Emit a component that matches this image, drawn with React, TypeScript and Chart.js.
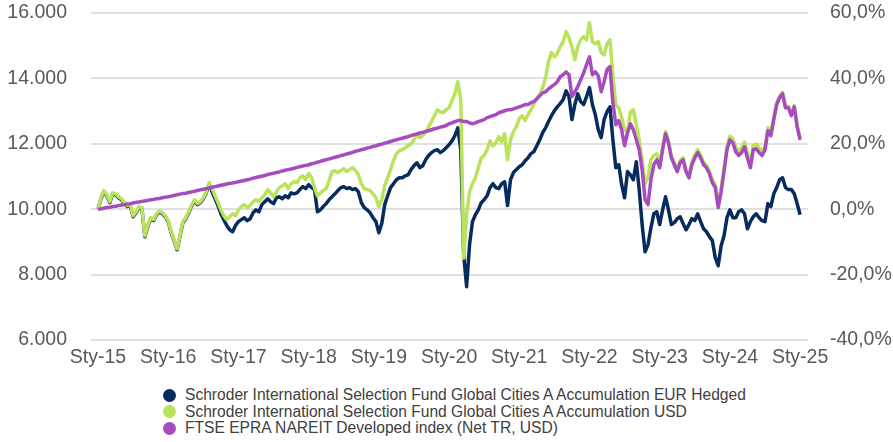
import React, { useEffect, useRef } from "react";
import { Chart, registerables } from "chart.js";

Chart.register(...registerables);

// x axis: half-month steps from Jan 2015 (index 0) to Jan 2025 (index 240)
const tickLabels = ["Sty-15", "Sty-16", "Sty-17", "Sty-18", "Sty-19", "Sty-20", "Sty-21", "Sty-22", "Sty-23", "Sty-24", "Sty-25"];
const STEPS_PER_YEAR = 24;

const seriesNames = [
  "Schroder International Selection Fund Global Cities A Accumulation EUR Hedged",
  "Schroder International Selection Fund Global Cities A Accumulation USD",
  "FTSE EPRA NAREIT Developed index (Net TR, USD)",
];
const seriesColors = ["#062b5d", "#b9e35b", "#a64cbe"];

const navyEurHedged = [
  10000, 10320, 10540, 10410, 10200, 10470, 10440, 10350, 10290, 10170, 10080, 10110, 9770, 9890, 10050, 10020, 9160, 9470, 9710, 9650, 9830, 9920, 9860, 9770,
  9620, 9280, 9040, 8760, 9160, 9590, 9710, 9890, 10110, 10260, 10140, 10200, 10320, 10500, 10750, 10530, 10320, 10110, 9860, 9680, 9500, 9370, 9310, 9500,
  9620, 9680, 9740, 9650, 9710, 9890, 9980, 9920, 10140, 10230, 10320, 10230, 10170, 10350, 10380, 10320, 10410, 10350, 10500, 10470, 10500, 10600, 10690, 10630,
  10750, 10660, 10600, 9920, 9980, 10080, 10170, 10290, 10380, 10470, 10570, 10660, 10690, 10630, 10660, 10600, 10630, 10530, 10200, 10050, 9980, 9890, 9740, 9620,
  9280, 9560, 10140, 10410, 10660, 10780, 10900, 10960, 10960, 11020, 11050, 11210, 11330, 11420, 11270, 11330, 11510, 11640, 11730, 11790, 11820, 11730, 11790, 11880,
  11970, 12090, 12250, 12490, 11820, 8610, 7630, 8910, 9620, 9830, 9980, 10200, 10290, 10410, 10660, 10780, 10660, 10630, 10780, 10840, 10110, 10900, 11120, 11210,
  11300, 11360, 11480, 11570, 11700, 11760, 11940, 12120, 12340, 12490, 12680, 12860, 13010, 13130, 13230, 13350, 13620, 13440, 12740, 13200, 13530, 13290, 13200, 13440,
  13720, 13200, 12890, 12430, 12190, 12740, 12980, 13130, 12120, 11270, 11360, 10750, 10350, 11150, 11050, 10900, 11450, 10600, 9530, 8700, 8910, 9430, 9860, 9920,
  9530, 9980, 10380, 9980, 9530, 9590, 9710, 9770, 9560, 9370, 9530, 9710, 9650, 9860, 9620, 9400, 9310, 9160, 9040, 8520, 8270, 8880, 9190, 9740,
  9980, 9740, 9740, 9920, 9980, 9860, 9400, 9620, 9770, 9860, 9740, 9650, 9620, 10170, 10080, 10470, 10660, 10900, 10960, 10660, 10600, 10600, 10470, 10170, 9830,
];

const greenUsd = [
  10000, 10350, 10570, 10440, 10230, 10500, 10470, 10380, 10320, 10200, 10110, 10140, 9800, 9920, 10080, 10050, 9190, 9500, 9740, 9680, 9860, 9950, 9890, 9800,
  9650, 9310, 9070, 8790, 9190, 9620, 9740, 9920, 10140, 10290, 10170, 10230, 10350, 10530, 10810, 10630, 10410, 10200, 9980, 9800, 9680, 9770, 9860, 9800,
  9980, 10080, 10140, 10050, 10110, 10230, 10290, 10230, 10350, 10440, 10600, 10500, 10380, 10530, 10660, 10720, 10780, 10630, 10780, 10840, 10810, 10960, 11020, 10900,
  11090, 10960, 10660, 10410, 10500, 10570, 10630, 10870, 11150, 11180, 11120, 11180, 11240, 11150, 11210, 11270, 11180, 11050, 10780, 10630, 10600, 10570, 10470, 10350,
  10080, 10290, 10720, 10960, 11210, 11480, 11700, 11790, 11820, 11880, 11940, 12000, 12120, 12280, 12190, 12250, 12340, 12520, 12680, 12860, 13040, 12980, 12950, 13040,
  13100, 13320, 13530, 13900, 13350, 8500, 9830, 10530, 10780, 10960, 11270, 11570, 11640, 11820, 12090, 11940, 12030, 12220, 12060, 12310, 11510, 12120, 12370, 12520,
  12770, 12860, 12710, 12890, 13040, 13230, 13380, 13500, 13720, 14020, 14510, 14790, 14660, 14760, 14970, 15120, 15430, 15240, 14970, 14570, 14970, 15180, 15280, 15180,
  15700, 15120, 15060, 15120, 14790, 14720, 15060, 15180, 14080, 13200, 13100, 12800, 12430, 12370, 12980, 13040, 12580, 12120, 11510, 10780, 10960, 11510, 11640, 11700,
  11340, 11880, 12380, 12090, 11640, 11430, 11210, 11490, 11580, 11220, 11030, 11440, 11650, 11820, 11650, 11440, 11340, 11170, 10900, 10760, 10150, 10630, 11250, 11920,
  12230, 12150, 11890, 11790, 11880, 12050, 11720, 11410, 11960, 11990, 11870, 11770, 11930, 12490, 12330, 12810, 13260, 13460, 13570, 13150, 13150, 12910, 13170, 12560, 12170,
];

const purpleIndex = [
  10000, 10010, 10030, 10050, 10060, 10080, 10090, 10110, 10130, 10140, 10160, 10170, 10190, 10210, 10220, 10240, 10250, 10270, 10290, 10300, 10320, 10330, 10350, 10370,
  10380, 10400, 10420, 10440, 10460, 10480, 10490, 10510, 10530, 10550, 10570, 10590, 10610, 10630, 10650, 10670, 10690, 10710, 10730, 10750, 10770, 10790, 10800, 10820,
  10840, 10860, 10880, 10900, 10920, 10950, 10970, 10990, 11010, 11030, 11060, 11080, 11100, 11120, 11140, 11170, 11190, 11210, 11230, 11250, 11280, 11300, 11320, 11340,
  11360, 11390, 11410, 11440, 11460, 11490, 11510, 11540, 11560, 11590, 11610, 11640, 11660, 11690, 11710, 11740, 11770, 11790, 11820, 11840, 11870, 11890, 11920, 11940,
  11970, 11990, 12020, 12040, 12070, 12100, 12120, 12150, 12170, 12200, 12220, 12250, 12280, 12300, 12330, 12350, 12380, 12400, 12430, 12460, 12480, 12510, 12530, 12560,
  12610, 12640, 12680, 12710, 12710, 12680, 12680, 12640, 12610, 12640, 12680, 12710, 12740, 12800, 12830, 12860, 12890, 12950, 12980, 13010, 13040, 13040, 13070, 13100,
  13130, 13160, 13200, 13200, 13260, 13290, 13380, 13470, 13560, 13590, 13680, 13750, 13810, 13900, 14050, 14110, 14200, 14110, 13440, 13590, 13750, 13960, 14170, 14420,
  14660, 14110, 14200, 14080, 13590, 13900, 14270, 14360, 13260, 12580, 12710, 12430, 11940, 12340, 12610, 12430, 12120, 11820, 11210, 10290, 10140, 10900, 11360, 11510,
  11270, 11820, 12310, 12030, 11570, 11360, 11150, 11420, 11510, 11150, 10960, 11360, 11570, 11730, 11570, 11360, 11270, 11090, 10810, 10660, 10050, 10530, 11150, 11820,
  12120, 12030, 11760, 11640, 11730, 11910, 11570, 11270, 11820, 11850, 11730, 11640, 11820, 12400, 12250, 12740, 13200, 13410, 13530, 13100, 13100, 12860, 13130, 12520, 12120,
];

const leftTicks = [6000, 8000, 10000, 12000, 14000, 16000];
const rightTicks = [-40, -20, 0, 20, 40, 60];

const FONT = "'Liberation Sans', Arial, sans-serif";
const TICK_SIZE = 19.5;

const toXY = (arr: number[]) => arr.map((v, i) => ({ x: i, y: v }));

export default function App() {
  const ref = useRef<HTMLCanvasElement | null>(null);

  useEffect(() => {
    document.body.style.margin = "0";
    const canvas = ref.current!;
    const mk = (k: number) => ({
      label: seriesNames[k],
      data: toXY([navyEurHedged, greenUsd, purpleIndex][k]),
      borderColor: seriesColors[k],
      backgroundColor: seriesColors[k],
      borderWidth: 3.5,
      pointRadius: 0,
      tension: 0,
      borderJoinStyle: "round" as const,
      yAxisID: "y",
    });
    const noVPad = (s: any, w: number) => {
      s.width = w;
      s.paddingTop = 0;
      s.paddingBottom = 0;
    };
    const chart = new Chart(canvas, {
      type: "line",
      data: { datasets: [mk(2), mk(1), mk(0)] },
      options: {
        animation: false,
        responsive: false,
        maintainAspectRatio: false,
        layout: { padding: { top: 13, left: 0, right: 0, bottom: 0 } },
        plugins: { legend: { display: false }, tooltip: { enabled: false } },
        scales: {
          x: {
            type: "linear",
            min: -2.4,
            max: 242.7,
            afterBuildTicks: (axis: any) => {
              axis.ticks = tickLabels.map((_, k) => ({ value: k * STEPS_PER_YEAR }));
            },
            afterFit: (s: any) => {
              s.height = 44;
            },
            ticks: {
              autoSkip: false,
              maxRotation: 0,
              padding: 6,
              color: "#595959",
              font: { family: FONT, size: TICK_SIZE },
              callback: (v: any) => tickLabels[Math.round(Number(v) / STEPS_PER_YEAR)],
            },
            grid: { display: false, drawTicks: false },
            border: { display: false },
          },
          y: {
            position: "left",
            min: 6000,
            max: 16000,
            afterBuildTicks: (axis: any) => {
              axis.ticks = leftTicks.map((v) => ({ value: v }));
            },
            afterFit: (s: any) => noVPad(s, 91),
            ticks: {
              padding: 24,
              color: "#595959",
              font: { family: FONT, size: TICK_SIZE },
              callback: (v: any) => Number(v).toLocaleString("de-DE"),
            },
            grid: { color: "#e0e0e0", lineWidth: 2, drawTicks: false },
            border: { display: false },
          },
          y2: {
            position: "right",
            min: -40,
            max: 60,
            afterBuildTicks: (axis: any) => {
              axis.ticks = rightTicks.map((v) => ({ value: v }));
            },
            afterFit: (s: any) => noVPad(s, 85),
            ticks: {
              padding: 22,
              color: "#595959",
              font: { family: FONT, size: TICK_SIZE },
              callback: (v: any) => Number(v).toFixed(1).replace(".", ",") + "%",
            },
            grid: { display: false, drawTicks: false },
            border: { display: false },
          },
        },
      },
    });
    return () => chart.destroy();
  }, []);

  return (
    <div style={{ position: "relative", width: 893, height: 442, background: "#fff", overflow: "hidden" }}>
      <canvas ref={ref} width={893} height={384} style={{ position: "absolute", left: 0, top: 0, width: 893, height: 384 }} />
      <div style={{ position: "absolute", left: 163, top: 387, fontFamily: FONT, fontSize: 15.6, color: "#404040" }}>
        {seriesNames.map((n, k) => (
          <div key={k} style={{ display: "flex", alignItems: "center", height: 16.6, whiteSpace: "nowrap" }}>
            <span style={{ display: "inline-block", width: 13, height: 13, borderRadius: "50%", background: seriesColors[k], marginRight: 9 }} />
            <span>{n}</span>
          </div>
        ))}
      </div>
    </div>
  );
}
